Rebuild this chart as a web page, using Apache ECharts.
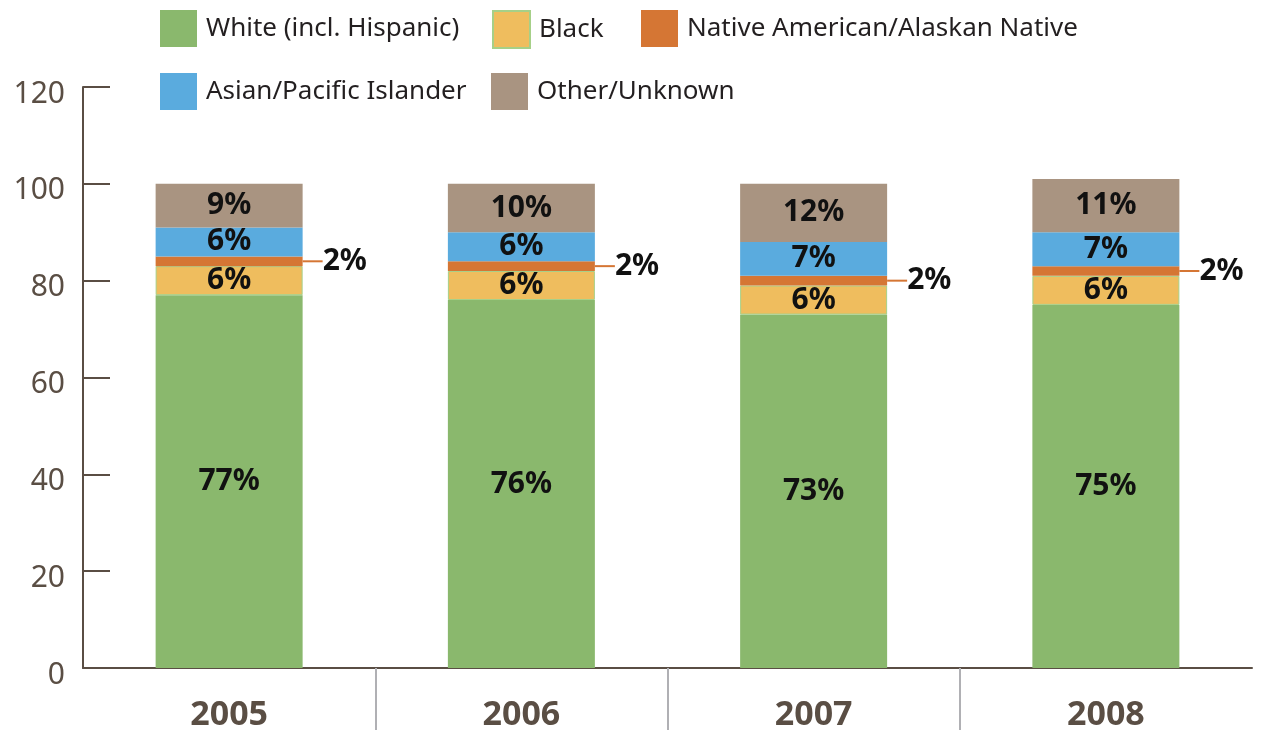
<!DOCTYPE html>
<html>
<head>
<meta charset="utf-8">
<script src="https://cdn.jsdelivr.net/npm/echarts@6/dist/echarts.min.js"></script>
<style>
  html, body { margin: 0; padding: 0; background: #fff; }
  #chart { width: 1262px; height: 732px; }
</style>
</head>
<body>
<div id="chart"></div>
<script>
  // 数据
  var years = ['2005', '2006', '2007', '2008'];
  var white = [77, 76, 73, 75];
  var black = [6, 6, 6, 6];
  var native = [2, 2, 2, 2];
  var asian = [6, 6, 7, 7];
  var other = [9, 10, 12, 11];
  var yTicks = [0, 20, 40, 60, 80, 100, 120];

  var font = '"Noto Sans", sans-serif';
  var axisColor = '#5a4e44';

  var colors = {
    white: '#8ab86d',
    black: '#efbd5e',
    native: '#d57634',
    asian: '#5aabde',
    other: '#a99481'
  };

  var inLabel = {
    show: true,
    position: 'inside',
    formatter: '{c}%',
    color: '#111',
    fontFamily: font,
    fontWeight: 'bold',
    fontSize: 30
  };

  function legend(name, left, top) {
    return {
      data: [name],
      left: left,
      top: top,
      itemWidth: 37,
      itemHeight: 37,
      icon: 'rect',
      selectedMode: false,
      textStyle: { color: '#231f20', fontFamily: font, fontSize: 26, padding: [0, 0, 0, 4] }
    };
  }

  var option = {
    animation: false,
    backgroundColor: '#fff',
    legend: [
      legend('White (incl. Hispanic)', 155, 5),
      legend('Black', 487, 5),
      legend('Native American/Alaskan Native', 636, 5),
      legend('Asian/Pacific Islander', 155, 68),
      legend('Other/Unknown', 486, 68)
    ],
    grid: { left: 83, right: 10, top: 87, bottom: 62 },
    xAxis: [{
      type: 'category',
      data: years,
      axisLine: { lineStyle: { color: axisColor, width: 2 } },
      axisTick: { inside: true, length: 12, lineStyle: { color: axisColor, width: 2 } },
      axisLabel: { color: axisColor, fontFamily: font, fontWeight: 'bold', fontSize: 34, margin: 30 }
    }, {
      type: 'value',
      position: 'bottom',
      min: 0,
      max: 4,
      interval: 1,
      axisLine: { show: false },
      splitLine: { show: false },
      axisLabel: { show: false },
      axisTick: { show: true, length: 62, customValues: [1, 2, 3], lineStyle: { color: '#b0b0b4', width: 2 } }
    }],
    yAxis: {
      type: 'value',
      min: yTicks[0],
      max: yTicks[yTicks.length - 1],
      interval: 20,
      axisLine: { show: true, lineStyle: { color: axisColor, width: 2 } },
      axisTick: { show: true, inside: true, length: 27, lineStyle: { color: axisColor, width: 2 } },
      splitLine: { show: false },
      axisLabel: {
        color: axisColor,
        fontFamily: font,
        fontSize: 30,
        margin: 18,
        formatter: '{v|{value}}',
        rich: { v: { color: axisColor, fontFamily: font, fontSize: 30, padding: [14, 0, 0, 0] } }
      }
    },
    series: [{
      name: 'White (incl. Hispanic)',
      type: 'bar',
      stack: 'a',
      barWidth: 147,
      itemStyle: { color: colors.white },
      label: inLabel,
      data: white
    }, {
      name: 'Black',
      type: 'bar',
      stack: 'a',
      itemStyle: { color: colors.black, borderColor: '#a6d088', borderWidth: 1 },
      label: inLabel,
      data: black
    }, {
      name: 'Native American/Alaskan Native',
      type: 'bar',
      stack: 'a',
      itemStyle: { color: colors.native },
      label: {
        show: true,
        position: 'right',
        distance: 0,
        formatter: '{l|}{t|{c}%}',
        rich: {
          l: { width: 20, height: 2, backgroundColor: colors.native },
          t: { color: '#111', fontFamily: font, fontWeight: 'bold', fontSize: 30 }
        }
      },
      data: native
    }, {
      name: 'Asian/Pacific Islander',
      type: 'bar',
      stack: 'a',
      itemStyle: { color: colors.asian },
      label: inLabel,
      data: asian
    }, {
      name: 'Other/Unknown',
      type: 'bar',
      stack: 'a',
      itemStyle: { color: colors.other },
      label: inLabel,
      data: other
    }]
  };

  var myChart = echarts.init(document.getElementById('chart'));
  myChart.setOption(option);
</script>
</body>
</html>
